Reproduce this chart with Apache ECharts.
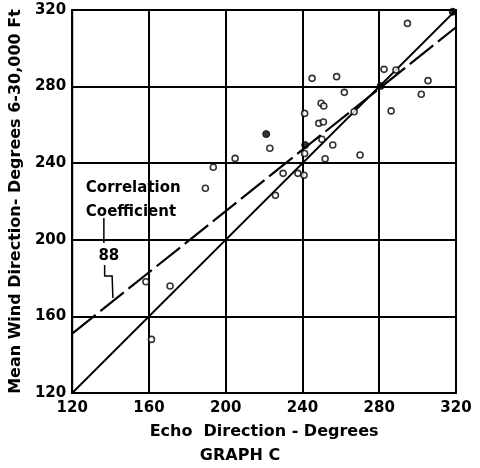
<!DOCTYPE html>
<html>
<head>
<meta charset="utf-8">
<script src="https://cdn.jsdelivr.net/npm/echarts@6/dist/echarts.min.js"></script>
<style>
  html, body { margin: 0; padding: 0; background: #fff; }
  #chart { width: 480px; height: 468px; }
</style>
</head>
<body>
<div id="chart"></div>
<script>
// Echo direction (x) vs mean wind direction 6-30,000 ft (y), degrees
const echoDir = [294.7, 282.5, 288.7, 245.0, 257.8, 305.4, 261.8, 301.9, 249.7, 251.1,
                 241.1, 266.9, 286.2, 248.5, 250.9, 250.1, 255.8, 241.1, 251.8, 270.0,
                 237.6, 240.8, 223.0, 204.9, 193.5, 189.4, 229.9, 225.9, 158.4, 171.0,
                 161.3];
const windDir = [313.0, 289.0, 288.7, 284.3, 285.2, 283.1, 277.0, 276.0, 271.3, 269.9,
                 266.0, 266.9, 267.3, 260.8, 261.5, 252.5, 249.5, 245.1, 242.3, 244.3,
                 234.7, 233.7, 247.8, 242.5, 237.9, 226.9, 234.7, 223.2, 178.1, 175.9,
                 148.0];
// solid (filled) observations
const echoDirFilled = [221.1, 241.4, 280.7, 318.3];
const windDirFilled = [255.2, 249.5, 280.3, 319.1];

// perfect-agreement line and fitted regression line
const identityX = [120, 320];
const identityY = [120, 320];
const fitX = [120, 320];
const fitY = [151, 311];

// axes
const axisMin = 120, axisMax = 320, axisStep = 40;

// annotation text and leader (data units)
const noteLines = ['Correlation', 'Coefficient'];
const noteValue = '88';
const leaderTop = [[136.5, 211.4], [136.5, 198.3]];
const leaderBottom = [[136.9, 186.8], [136.9, 181.1], [140.8, 181.1], [141.2, 169.6]];

const FONT = '"DejaVu Sans", sans-serif';

const chart = echarts.init(document.getElementById('chart'), null, { renderer: 'canvas' });

function axis(name, gap, nameSize) {
  return {
    type: 'value', min: axisMin, max: axisMax, interval: axisStep,
    name: name, nameLocation: 'middle', nameGap: gap,
    nameTextStyle: { color: '#000', fontFamily: FONT, fontWeight: 'bold', fontSize: nameSize },
    axisLine: { show: true, lineStyle: { color: '#000', width: 2 } },
    axisTick: { show: false },
    axisLabel: { color: '#000', fontFamily: FONT, fontWeight: 'bold', fontSize: 15, margin: 6 },
    splitLine: { show: true, lineStyle: { color: '#000', width: 2 } }
  };
}

const xAx = axis('Echo  Direction - Degrees', 31, 16);
const yAx = axis('Mean Wind Direction- Degrees 6-30,000 Ft', 36, 16);
xAx.axisLabel.margin = 8;

chart.setOption({
  animation: false,
  backgroundColor: '#fff',
  title: {
    text: 'GRAPH C', left: 'center', top: 443,
    textStyle: { color: '#000', fontFamily: FONT, fontWeight: 'bold', fontSize: 16 }
  },
  grid: { left: 69, right: 24, top: 10, bottom: 75, show: true, borderColor: '#000', borderWidth: 2 },
  xAxis: xAx,
  yAxis: yAx,
  series: [
    {
      type: 'line', data: identityX.map((x, i) => [x, identityY[i]]),
      symbol: 'none', lineStyle: { color: '#000', width: 1.8 }, z: 3
    },
    {
      type: 'line', data: fitX.map((x, i) => [x, fitY[i]]),
      symbol: 'none', lineStyle: { color: '#000', width: 2.2, type: [30, 6] }, z: 3
    },
    {
      type: 'scatter', data: echoDir.map((x, i) => [x, windDir[i]]),
      symbol: 'circle', symbolSize: 6,
      itemStyle: { color: '#fff', borderColor: '#000', borderWidth: 1.6 }, z: 4
    },
    {
      type: 'scatter', data: echoDirFilled.map((x, i) => [x, windDirFilled[i]]),
      symbol: 'circle', symbolSize: 7,
      itemStyle: { color: '#000', borderColor: '#000', borderWidth: 1 }, z: 4
    }
  ]
});

// annotation placed through the chart's own coordinate conversion
function px(p) { return chart.convertToPixel({ gridIndex: 0 }, p); }
const t1 = px([127.1, 227]);
const t2 = px([127.1, 214.5]);
const t3 = px([139.1, 191.5]);
const txtStyle = { fill: '#000', font: 'bold 15px ' + FONT, textVerticalAlign: 'middle' };
chart.setOption({
  graphic: [
    { type: 'text', x: t1[0], y: t1[1], style: Object.assign({ text: noteLines[0] }, txtStyle), z: 10 },
    { type: 'text', x: t2[0], y: t2[1], style: Object.assign({ text: noteLines[1] }, txtStyle), z: 10 },
    { type: 'text', x: t3[0], y: t3[1], style: Object.assign({ text: noteValue, textAlign: 'center' }, txtStyle), z: 10 },
    { type: 'polyline', shape: { points: leaderTop.map(px) }, style: { stroke: '#000', lineWidth: 1.5, fill: null }, z: 10 },
    { type: 'polyline', shape: { points: leaderBottom.map(px) }, style: { stroke: '#000', lineWidth: 1.5, fill: null }, z: 10 }
  ]
});
</script>
</body>
</html>
